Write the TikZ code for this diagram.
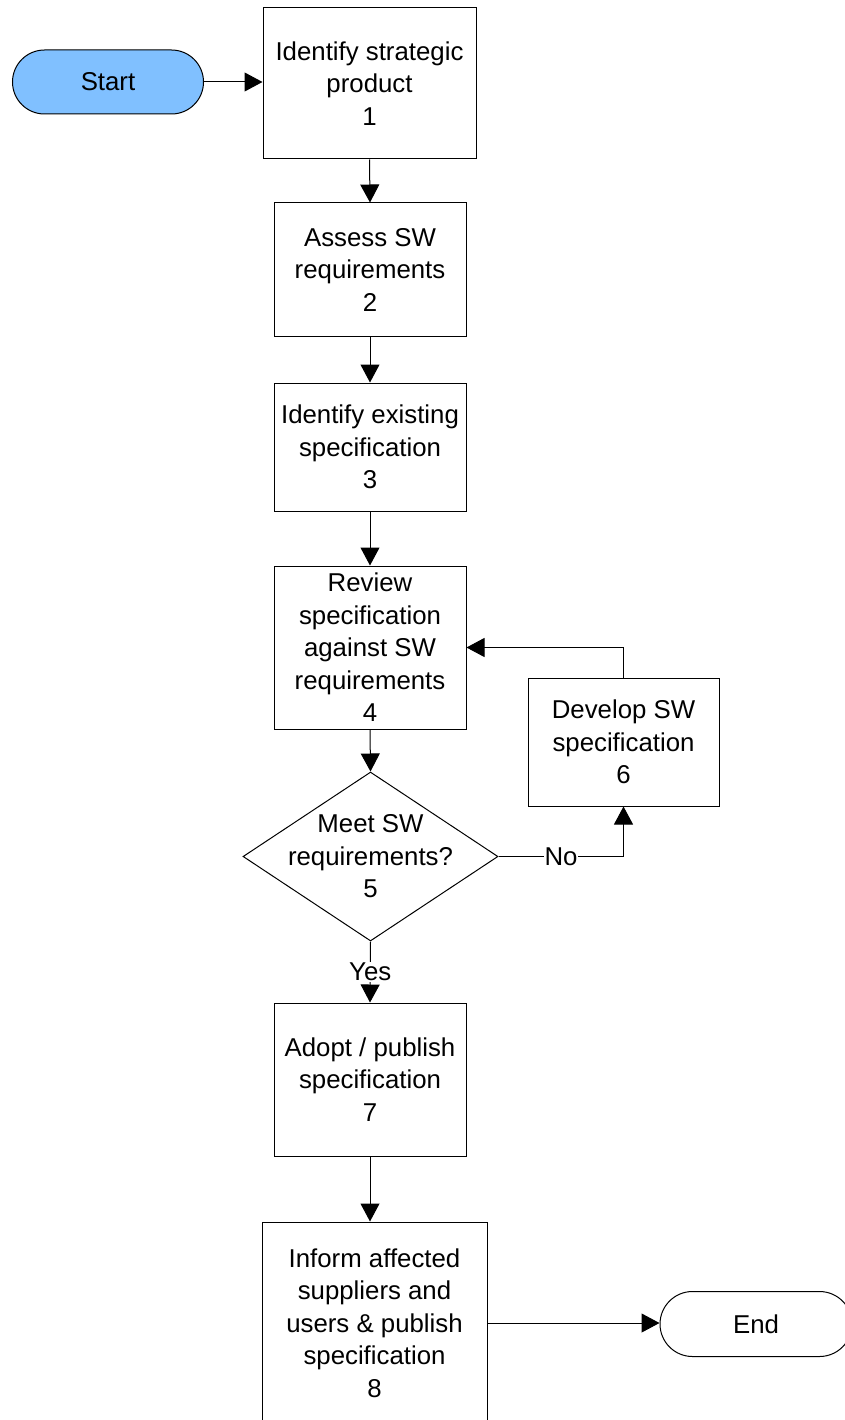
\documentclass[tikz,border=0pt]{standalone}
\usepackage{fontspec}
\setmainfont{Liberation Sans}
\usetikzlibrary{arrows.meta,shapes.geometric,shapes.misc}
\definecolor{startblue}{HTML}{80C0FF}

\tikzset{
  box/.style={draw,line width=1pt,align=center,inner sep=2pt,minimum width=192pt},
  term/.style={draw,rounded rectangle,line width=1pt,minimum width=191pt,minimum height=64pt,inner sep=0pt},
  arr/.style={line width=1pt,-{Triangle[length=18pt,width=19pt]}},
  lbl/.style={fill=white,inner sep=1pt}
}

\begin{document}
\begin{tikzpicture}[x=1pt,y=-1pt,font=\fontsize{25.8}{32.5}\selectfont]
        \useasboundingbox (0,0) rectangle (844,1420);
        % edit here for the boxes
        \node[term,fill=startblue] (start) at (108,82) {Start};
        \node[box,minimum width=213pt,minimum height=151pt] (ident) at (369.5,83.5) {Identify strategic\\product\\1};
        \node[box,minimum height=133pt] (assess) at (370,269.5) {Assess SW\\requirements\\2};
        \node[box,minimum height=128pt] (exist) at (370,447) {Identify existing\\specification\\3};
        \node[box,minimum height=163pt] (review) at (370,647.5) {Review\\specification\\against SW\\requirements\\4};
        \node[draw,diamond,line width=1pt,minimum width=255pt,minimum height=169pt,inner sep=0pt] (dec) at (370.5,856.5) {};
        \node[align=center] (dectext) at (dec) {Meet SW\\requirements?\\5};
        \node[box,minimum width=191pt,minimum height=128pt] (dev) at (623.5,742) {Develop SW\\specification\\6};
        \node[box,minimum height=153pt] (adopt) at (370,1079.5) {Adopt / publish\\specification\\7};
        \node[box,minimum width=225pt,minimum height=202pt] (inform) at (374.5,1323) {Inform affected\\suppliers and\\users \& publish\\specification\\8};
        \node[term,minimum width=192pt,minimum height=65pt] (end) at (756,1324) {End};
        % edit here for the arrows
        \draw[arr] (start.east) -- (start.east -| ident.west);
        \foreach \a/\b in {ident/assess,assess/exist,exist/review,review/dec}
        \draw[arr] (\a.south) -- (\b.north);
        \draw[arr] (dec.east) -| node[lbl,pos=0.25] (no) {No} (dev.south);
        \draw[arr] (dev.north) |- (review.east);
        \draw[arr] (dec.south) -- node[lbl] (yes) {Yes} (adopt.north);
        \draw[arr] (adopt.south) -- (adopt.south |- inform.north);
        \draw[arr] (inform.east) -- (inform.east -| end.west);
\end{tikzpicture}
\end{document}
